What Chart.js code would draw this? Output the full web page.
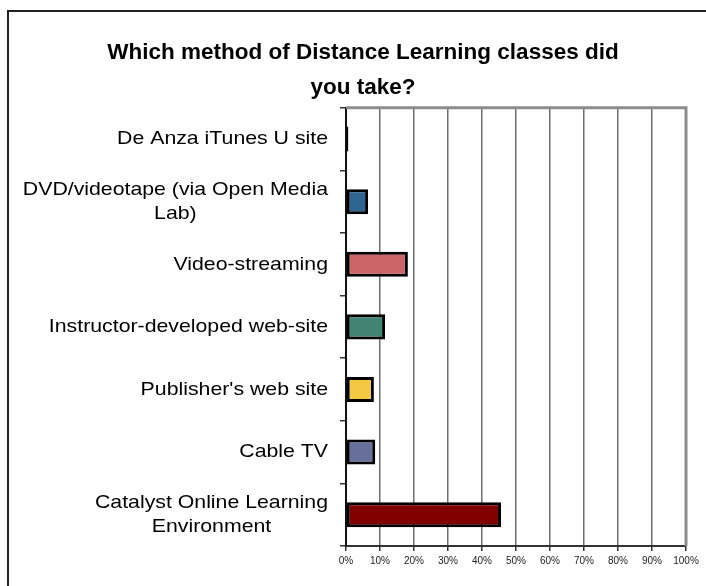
<!DOCTYPE html>
<html>
<head>
<meta charset="utf-8">
<script src="https://cdn.jsdelivr.net/npm/chart.js@4"></script>
<style>
  html, body { margin: 0; padding: 0; background: #fff; overflow: hidden; }
  #wrap { position: relative; width: 706px; height: 586px; }
  #frame { position: absolute; left: 7px; top: 10px; width: 740px; height: 640px; border: 2px solid #222; box-sizing: border-box; }
  canvas { position: absolute; left: 0; top: 0; }
</style>
</head>
<body>
<div id="wrap">
  <div id="frame"></div>
  <canvas id="chart" width="706" height="586"></canvas>
</div>
<script>
// categories, top to bottom (multi-line labels as arrays)
const categories = [
    "De Anza iTunes U site",
    ["DVD/videotape (via Open Media", "Lab)"],
    "Video-streaming",
    "Instructor-developed web-site",
    "Publisher's web site",
    "Cable TV",
    ["Catalyst Online Learning", "Environment"]
];
// percent of respondents
const values = [0.7, 6.5, 18.2, 11.5, 8.2, 8.6, 45.6];
const barColors = ["#111111", "#2f6591", "#cc6666", "#428474", "#f5c844", "#66709a", "#800000"];
const tickValues = [0, 10, 20, 30, 40, 50, 60, 70, 80, 90, 100];

const titleLines = ["Which method of Distance Learning classes did", "you take?"];

// gray frame on top / right of plot area
const plotFrame = {
    id: "plotFrame",
    afterDraw(chart) {
        const { ctx, chartArea } = chart;
        ctx.save();
        ctx.strokeStyle = "#8c8c8c";
        ctx.lineWidth = 3;
        ctx.beginPath();
        ctx.moveTo(chartArea.left, chartArea.top);
        ctx.lineTo(chartArea.right, chartArea.top);
        ctx.lineTo(chartArea.right, chartArea.bottom);
        ctx.stroke();
        ctx.restore();
    }
};

// category labels: block right-aligned, lines centred within the block (Excel style),
// slightly widened like the original
const catLabels = {
    id: "catLabels",
    afterDraw(chart) {
        const { ctx } = chart;
        const y = chart.scales.y;
        const stretch = 1.12;
        const lineH = 24;
        const rightX = y.right - 18;
        ctx.save();
        ctx.font = "19px Arial, 'Liberation Sans'";
        ctx.fillStyle = "#000";
        ctx.textBaseline = "middle";
        ctx.textAlign = "center";
        categories.forEach((lab, i) => {
            const lines = Array.isArray(lab) ? lab : [lab];
            const w = Math.max(...lines.map(l => ctx.measureText(l).width)) * stretch;
            const cx = rightX - w / 2;
            const cy = y.getPixelForTick(i);
            lines.forEach((l, j) => {
                const ly = cy + (j - (lines.length - 1) / 2) * lineH;
                ctx.save();
                ctx.translate(cx, ly);
                ctx.scale(stretch, 1);
                ctx.fillText(l, 0, 0);
                ctx.restore();
            });
        });
        ctx.restore();
    }
};

new Chart(document.getElementById("chart"), {
    type: "bar",
    data: {
        labels: categories,
        datasets: [{
            data: values,
            backgroundColor: barColors,
            borderColor: "#000",
            borderWidth: 3,
            borderSkipped: false,
            barPercentage: 0.4,
            categoryPercentage: 1
        }]
    },
    options: {
        indexAxis: "y",
        responsive: false,
        animation: false,
        devicePixelRatio: 1,
        layout: { padding: { left: 40, right: 20, top: 0, bottom: 0 } },
        plugins: {
            legend: { display: false },
            tooltip: { enabled: false },
            title: {
                display: true,
                text: titleLines,
                color: "#000",
                font: { family: "Arial, 'Liberation Sans'", size: 22.5, weight: "bold", lineHeight: 1.55 },
                padding: { top: 35, bottom: 3 }
            }
        },
        scales: {
            x: {
                min: 0,
                max: 100,
                afterBuildTicks(axis) {
                    axis.ticks = tickValues.map(v => ({ value: v }));
                },
                afterFit(axis) { axis.height = 40; },
                ticks: {
                    color: "#222",
                    padding: 4,
                    maxRotation: 0,
                    font: { family: "Arial, 'Liberation Sans'", size: 10 },
                    callback: v => v + "%"
                },
                grid: {
                    color: "#6e6e6e",
                    lineWidth: 1.5,
                    tickLength: 5,
                    tickColor: "#333"
                },
                border: { display: true, color: "#333", width: 2 }
            },
            y: {
                afterFit(axis) { axis.width = 306; },
                ticks: { display: false },
                grid: {
                    offset: true,
                    drawOnChartArea: false,
                    tickLength: 6,
                    color: "#333",
                    lineWidth: 1.5
                },
                border: { display: true, color: "#111", width: 2 }
            }
        }
    },
    plugins: [plotFrame, catLabels]
});
</script>
</body>
</html>
